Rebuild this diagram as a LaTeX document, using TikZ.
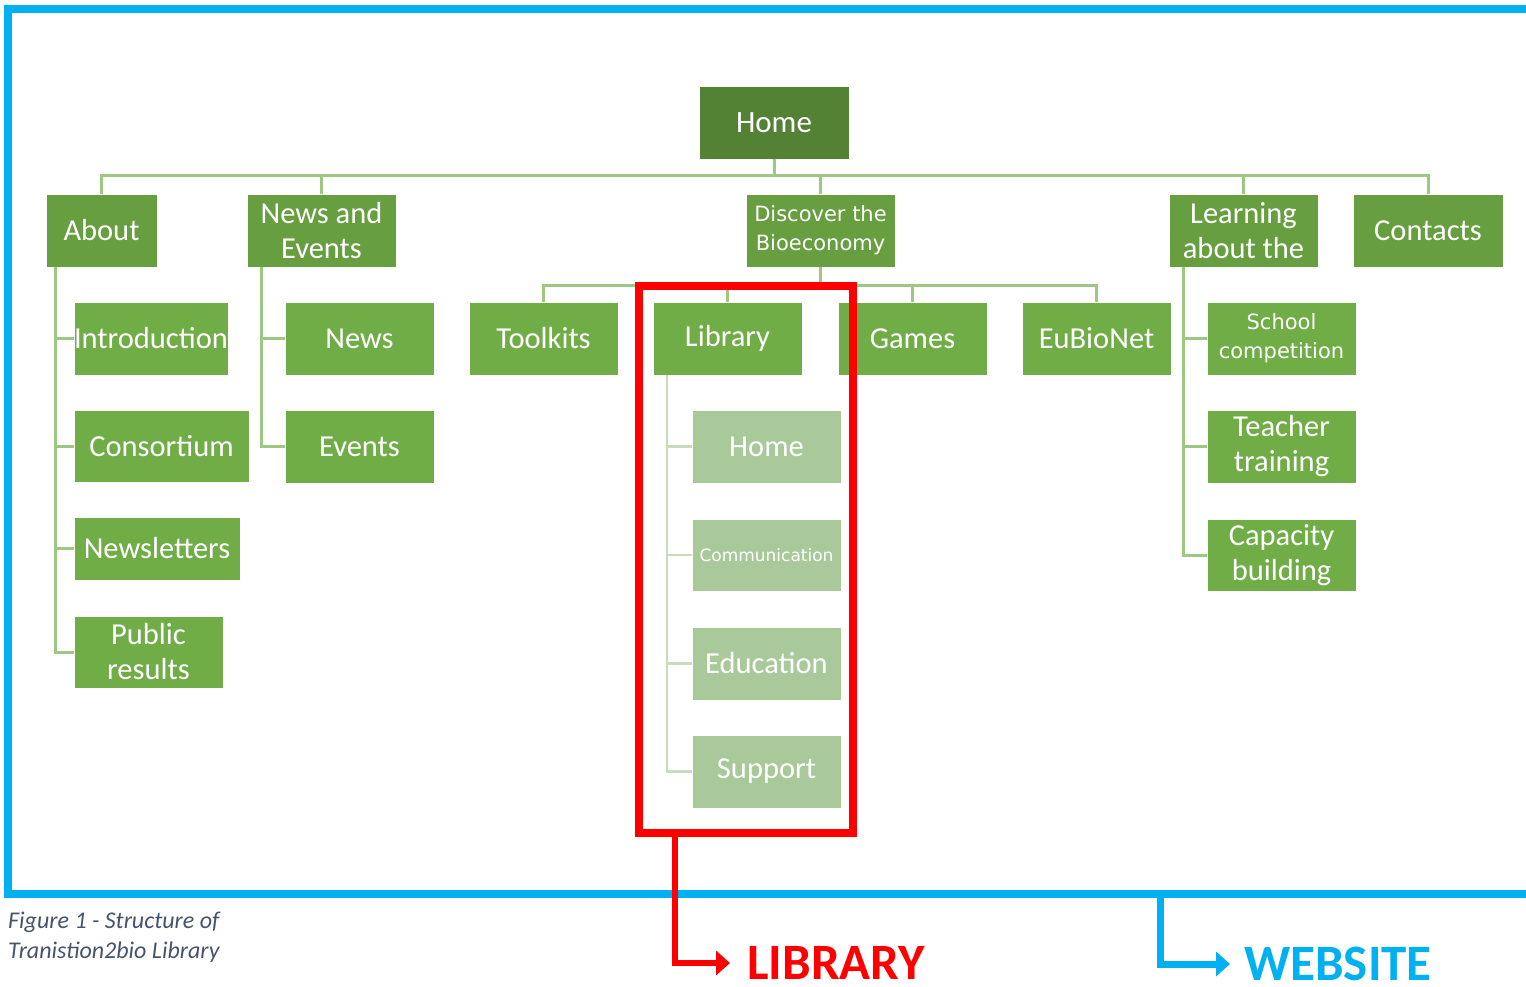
\documentclass[tikz,border=0pt]{standalone}
\usepackage{fontspec}
\setmainfont{Carlito}
\newfontfamily\dvs{DejaVu Sans}
\usetikzlibrary{arrows.meta}
\definecolor{gHome}{HTML}{548235}
\definecolor{gOne}{HTML}{669E40}
\definecolor{gTwo}{HTML}{70AD47}
\definecolor{gThree}{HTML}{A9C99A}
\definecolor{gConn}{HTML}{9DC882}
\definecolor{gConnL}{HTML}{C8DCBD}
\definecolor{frameBlue}{HTML}{00B0F0}
\definecolor{capGray}{HTML}{44546A}
\begin{document}
\begin{tikzpicture}[x=1pt,y=-1pt,
  box/.style={rectangle, draw=white, line width=0.6pt, inner sep=0pt, outer sep=0pt, text=white,
    align=center, anchor=north west, minimum width=149pt, minimum height=73pt,
    font=\fontsize{30.5pt}{35pt}\selectfont},
  homebox/.style={box, fill=gHome, font=\fontsize{31pt}{36pt}\selectfont},
  lone/.style={box, fill=gOne},
  ltwo/.style={box, fill=gTwo},
  lthree/.style={box, fill=gThree},
  smalltxt/.style={font=\dvs\fontsize{21pt}{29pt}\selectfont},
  conn/.style={draw=gConn, line width=3pt},
  connl/.style={draw=gConnL, line width=2.5pt},
  redarrow/.style={draw=red, line width=6pt, -{Triangle[length=14pt,width=24pt]}},
  bluearrow/.style={draw=frameBlue, line width=7pt, -{Triangle[length=14pt,width=24pt]}},
  bigtxt/.style={anchor=west, inner sep=0pt, font=\bfseries\fontsize{51pt}{60pt}\selectfont}
]
\useasboundingbox (0,0) rectangle (1526,987);
% website frame
\draw[draw=frameBlue, line width=8pt] (1545,894) -- (8,894) -- (8,9) -- (1545,9);

% nodes
\node[homebox, minimum width=150pt] (home) at (699,86) {Home};
\node[lone, minimum width=111pt] (about) at (46,194) {About};
\node[lone] (newsev) at (247,194) {News and\\Events};
\node[lone, smalltxt] (discover) at (746,194) {Discover the\\Bioeconomy};
\node[lone] (learning) at (1169,194) {Learning\\about the};
\node[lone, minimum width=150pt] (contacts) at (1353,194) {Contacts};

\node[ltwo] (intro) at (74,302) {Introduction};
\node[ltwo, minimum width=175pt, minimum height=72pt] (consort) at (74,410) {Consortium};
\node[ltwo, minimum width=166pt, minimum height=63pt] (newsl) at (74,517) {Newsletters};
\node[ltwo, minimum height=72pt] (public) at (74,616) {Public\\results};

\node[ltwo] (news) at (285,302) {News};
\node[ltwo] (events) at (285,410) {Events};

\node[ltwo] (toolkits) at (469,302) {Toolkits};
\node[ltwo] (library) at (653,302) {Library};
\node[ltwo] (games) at (838,302) {Games};
\node[ltwo] (eubionet) at (1022,302) {EuBioNet};

\node[lthree] (lhome) at (692,410) {Home};
\node[lthree, minimum height=72pt, font=\dvs\fontsize{17pt}{20pt}\selectfont] (comm) at (692,519) {Communication};
\node[lthree] (edu) at (692,627) {Education};
\node[lthree] (support) at (692,735) {Support};

\node[ltwo, smalltxt] (school) at (1207,302) {School\\competition};
\node[ltwo] (teacher) at (1207,410) {Teacher\\training};
\node[ltwo, minimum height=72pt] (capacity) at (1207,519) {Capacity\\building};

% connectors level 1
\foreach \c in {about,newsev,discover,learning,contacts}
  \draw[conn] (home.south) -- ++(0,17) -| (\c.north);
% discover children
\foreach \c in {toolkits,library,games,eubionet}
  \draw[conn] (discover.south) -- ++(0,18) -| (\c.north);
% about children
\foreach \c in {intro,consort,newsl,public}
  \draw[conn] ([xshift=9pt]about.south west) |- (\c.west);
% news children
\foreach \c in {news,events}
  \draw[conn] ([xshift=14pt]newsev.south west) |- (\c.west);
% library children
\foreach \c in {lhome,comm,edu,support}
  \draw[connl] ([xshift=14pt]library.south west) |- (\c.west);
% learning children
\foreach \c in {school,teacher,capacity}
  \draw[conn] ([xshift=14pt]learning.south west) |- (\c.west);

% library frame
\node[draw=red, line width=8pt, inner sep=0pt, outer sep=0pt, minimum width=214pt, minimum height=547pt, anchor=north west] (libframe) at (638.5,285.5) {};

% labels
\node[bigtxt, text=red] (libtxt) at (747,963) {LIBRARY};
\node[bigtxt, text=frameBlue] (webtxt) at (1244,964) {WEBSITE};
\coordinate (webfoot) at (1160,894);

\draw[redarrow, shorten >=17pt] ([xshift=36.5pt]libframe.south west) |- (libtxt.west);
\draw[bluearrow, shorten >=14pt] (webfoot) |- (webtxt.west);

% caption
\node[anchor=north west, inner sep=0pt, align=left, text=capGray,
  font=\itshape\fontsize{24pt}{30pt}\selectfont] (caption) at (8,912)
  {Figure 1 - Structure of\\Tranistion2bio Library};
\end{tikzpicture}
\end{document}
